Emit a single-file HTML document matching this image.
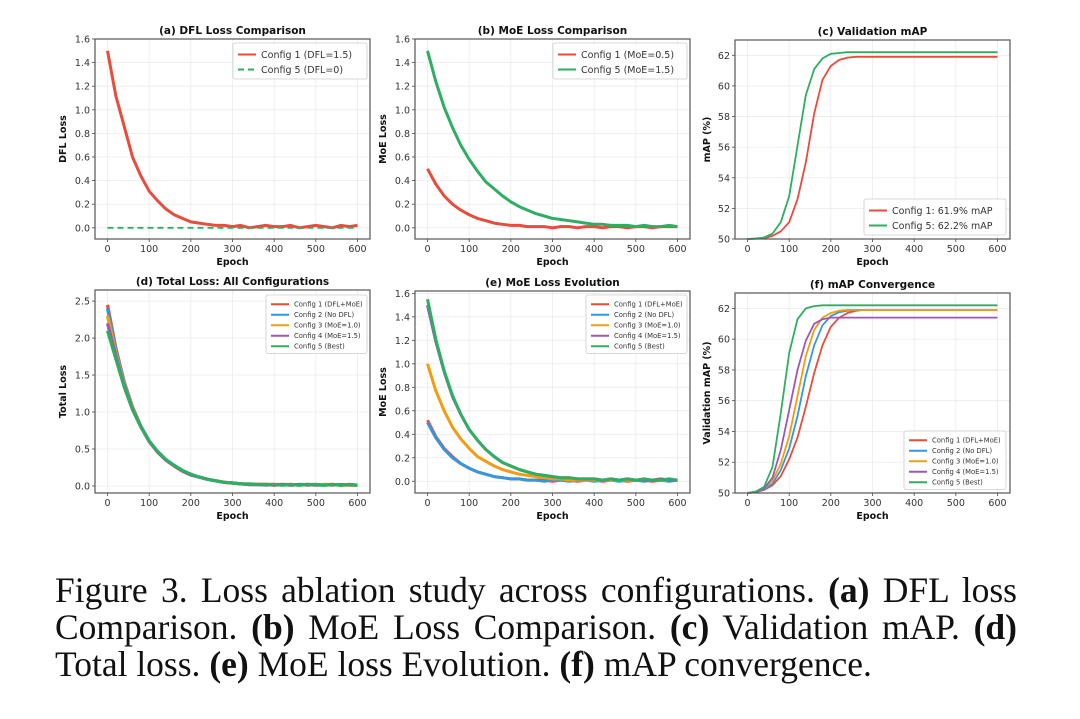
<!DOCTYPE html>
<html><head><meta charset="utf-8">
<style>
body{margin:0;background:#fff;width:1080px;height:719px;overflow:hidden;position:relative}
svg{position:absolute;left:0;top:0}
.cap{position:absolute;left:55px;width:962px;font-family:"Liberation Serif",serif;font-size:35.5px;color:#111;white-space:nowrap;line-height:37px}
.j{text-align:justify;text-align-last:justify}
</style></head><body>
<svg id="fig" width="1080" height="560"></svg>
<div class="cap j" style="top:572px">Figure 3. Loss ablation study across configurations. <b>(a)</b> DFL loss</div>
<div class="cap j" style="top:609px">Comparison. <b>(b)</b> MoE Loss Comparison. <b>(c)</b> Validation mAP. <b>(d)</b></div>
<div class="cap" style="top:646px">Total loss. <b>(e)</b> MoE loss Evolution. <b>(f)</b> mAP convergence.</div>
<script>
// epochs sampled every 20
const epochs=[0,20,40,60,80,100,120,140,160,180,200,220,240,260,280,300,320,340,360,380,400,420,440,460,480,500,520,540,560,580,600];
const xTicks=[0,100,200,300,400,500,600];
// (a)
const aDfl1=[1.50,1.12,0.86,0.60,0.44,0.31,0.23,0.16,0.11,0.08,0.05,0.04,0.03,0.02,0.02,0.01,0.02,0.00,0.01,0.02,0.01,0.01,0.02,0.00,0.01,0.02,0.01,0.00,0.02,0.01,0.02];
const aDfl5=[0,0,0,0,0,0,0,0,0,0,0,0,0,0,0,0,0,0,0,0,0,0,0,0,0,0,0,0,0,0,0];
// (b)
const bMoe1=[0.50,0.37,0.27,0.20,0.15,0.11,0.08,0.06,0.04,0.03,0.02,0.02,0.01,0.01,0.01,0.00,0.01,0.01,0.00,0.01,0.01,0.00,0.01,0.01,0.00,0.01,0.01,0.00,0.01,0.01,0.01];
const bMoe5=[1.50,1.24,1.02,0.85,0.70,0.58,0.48,0.39,0.33,0.27,0.22,0.18,0.15,0.12,0.10,0.08,0.07,0.06,0.05,0.04,0.03,0.03,0.02,0.02,0.02,0.01,0.02,0.01,0.01,0.02,0.01];
// (c)
const cMap1=[50.0,50.02,50.05,50.2,50.5,51.1,52.6,55.0,58.2,60.4,61.3,61.7,61.85,61.9,61.9,61.9,61.9,61.9,61.9,61.9,61.9,61.9,61.9,61.9,61.9,61.9,61.9,61.9,61.9,61.9,61.9];
const cMap5=[50.0,50.03,50.1,50.35,51.1,52.8,56.1,59.4,61.1,61.8,62.1,62.15,62.2,62.2,62.2,62.2,62.2,62.2,62.2,62.2,62.2,62.2,62.2,62.2,62.2,62.2,62.2,62.2,62.2,62.2,62.2];
// (d)
const dTot1=[2.45,1.87,1.41,1.07,0.81,0.61,0.46,0.35,0.27,0.20,0.15,0.12,0.09,0.07,0.05,0.04,0.03,0.02,0.02,0.02,0.01,0.02,0.02,0.01,0.02,0.01,0.02,0.01,0.02,0.01,0.01];
const dTot2=[2.40,1.85,1.40,1.06,0.81,0.61,0.46,0.35,0.27,0.20,0.15,0.12,0.09,0.07,0.05,0.04,0.03,0.02,0.02,0.01,0.02,0.02,0.01,0.02,0.02,0.01,0.01,0.02,0.01,0.02,0.01];
const dTot3=[2.30,1.80,1.38,1.05,0.80,0.60,0.46,0.35,0.27,0.20,0.15,0.12,0.09,0.07,0.05,0.04,0.03,0.02,0.02,0.02,0.02,0.01,0.02,0.01,0.02,0.01,0.02,0.02,0.01,0.01,0.01];
const dTot4=[2.20,1.76,1.36,1.04,0.80,0.60,0.46,0.35,0.27,0.20,0.15,0.12,0.09,0.07,0.05,0.04,0.03,0.02,0.02,0.02,0.01,0.02,0.01,0.02,0.01,0.02,0.01,0.02,0.01,0.02,0.01];
const dTot5=[2.10,1.72,1.34,1.03,0.80,0.61,0.47,0.36,0.28,0.21,0.16,0.12,0.09,0.07,0.05,0.04,0.03,0.03,0.02,0.02,0.02,0.01,0.02,0.01,0.02,0.02,0.01,0.02,0.01,0.02,0.01];
// (e)
const eMoe1=[0.52,0.38,0.28,0.21,0.15,0.11,0.08,0.06,0.04,0.03,0.02,0.02,0.01,0.01,0.01,0.00,0.01,0.01,0.00,0.01,0.01,0.00,0.01,0.01,0.00,0.01,0.01,0.00,0.01,0.01,0.01];
const eMoe2=[0.50,0.37,0.27,0.20,0.15,0.11,0.08,0.06,0.04,0.03,0.02,0.02,0.01,0.01,0.00,0.01,0.01,0.00,0.01,0.01,0.00,0.01,0.01,0.00,0.01,0.01,0.00,0.01,0.01,0.00,0.01];
const eMoe3=[1.00,0.77,0.60,0.46,0.36,0.28,0.21,0.17,0.13,0.10,0.08,0.06,0.05,0.04,0.03,0.02,0.02,0.01,0.01,0.01,0.01,0.01,0.01,0.01,0.01,0.01,0.01,0.01,0.01,0.01,0.01];
const eMoe4=[1.50,1.19,0.93,0.72,0.57,0.44,0.35,0.27,0.21,0.16,0.13,0.10,0.08,0.06,0.05,0.04,0.03,0.03,0.02,0.02,0.02,0.01,0.02,0.01,0.02,0.01,0.01,0.01,0.02,0.01,0.01];
const eMoe5=[1.55,1.21,0.94,0.73,0.57,0.44,0.35,0.27,0.21,0.16,0.13,0.10,0.08,0.06,0.05,0.04,0.03,0.03,0.02,0.02,0.02,0.01,0.02,0.01,0.02,0.01,0.02,0.01,0.01,0.02,0.01];
// (f)
const fMap1=[50.0,50.05,50.2,50.5,51.1,52.2,53.6,55.6,57.8,59.6,60.8,61.4,61.7,61.85,61.9,61.9,61.9,61.9,61.9,61.9,61.9,61.9,61.9,61.9,61.9,61.9,61.9,61.9,61.9,61.9,61.9];
const fMap2=[50.0,50.05,50.25,50.6,51.5,52.9,55.0,57.6,59.6,60.9,61.5,61.75,61.85,61.9,61.9,61.9,61.9,61.9,61.9,61.9,61.9,61.9,61.9,61.9,61.9,61.9,61.9,61.9,61.9,61.9,61.9];
const fMap3=[50.0,50.05,50.3,50.8,51.9,53.7,56.3,58.9,60.6,61.4,61.7,61.85,61.9,61.9,61.9,61.9,61.9,61.9,61.9,61.9,61.9,61.9,61.9,61.9,61.9,61.9,61.9,61.9,61.9,61.9,61.9];
const fMap4=[50.0,50.05,50.3,51.0,52.8,55.4,58.0,59.9,61.0,61.3,61.4,61.4,61.4,61.4,61.4,61.4,61.4,61.4,61.4,61.4,61.4,61.4,61.4,61.4,61.4,61.4,61.4,61.4,61.4,61.4,61.4];
const fMap5=[50.0,50.1,50.4,51.7,55.2,59.1,61.3,62.0,62.15,62.2,62.2,62.2,62.2,62.2,62.2,62.2,62.2,62.2,62.2,62.2,62.2,62.2,62.2,62.2,62.2,62.2,62.2,62.2,62.2,62.2,62.2];
const lossTicks=[0,0.2,0.4,0.6,0.8,1.0,1.2,1.4,1.6];
const mapTicks=[50,52,54,56,58,60,62];
const totTicks=[0,0.5,1.0,1.5,2.0,2.5];

const C={r:'#e74c3c',b:'#3498db',o:'#f39c12',p:'#9b59b6',g:'#2eae62'};
const NS='http://www.w3.org/2000/svg';
const svg=document.getElementById('fig');
function mk(tag,attrs,parent,txt){const e=document.createElementNS(NS,tag);for(const k in attrs)e.setAttribute(k,attrs[k]);if(txt!==undefined)e.textContent=txt;(parent||svg).appendChild(e);return e;}
const FONT='"DejaVu Sans","Liberation Sans",sans-serif';

function panel(p){
  const g=mk('g',{});
  
  
  const sx=v=>p.x0+(v-(-30))/(660)*(p.x1-p.x0);
  const sy=v=>p.y1-(v-p.ylim[0])/(p.ylim[1]-p.ylim[0])*(p.y1-p.y0);
  xTicks.forEach(t=>{const l=mk('line',{x1:sx(t),x2:sx(t),y1:p.y0,y2:p.y1,stroke:'#ebebeb','stroke-width':0.8},g);
    const tx=mk('text',{x:sx(t),y:p.y1+13,'font-size':9.5,'text-anchor':'middle','font-family':FONT,fill:'#333'},g,t);
    mk('line',{x1:sx(t),x2:sx(t),y1:p.y1,y2:p.y1+3,stroke:'#444','stroke-width':0.8},g);});
  p.yt.forEach(t=>{const l=mk('line',{x1:p.x0,x2:p.x1,y1:sy(t),y2:sy(t),stroke:'#ebebeb','stroke-width':0.8},g);
    const tx=mk('text',{x:p.x0-5,y:sy(t)+3.5,'font-size':9.5,'text-anchor':'end','font-family':FONT,fill:'#333'},g,p.fmt(t));
    mk('line',{x1:p.x0-3,x2:p.x0,y1:sy(t),y2:sy(t),stroke:'#444','stroke-width':0.8},g);});
  p.series.forEach(s=>{
    const pts=epochs.map((e,i)=>sx(e).toFixed(1)+','+sy(s.v[i]).toFixed(1)).join(' ');
    const pl=mk('polyline',{points:pts,fill:'none',stroke:s.c,'stroke-width':s.w||2,'stroke-linejoin':'round','stroke-dasharray':s.dash||'none'},g);
    
    
  });
  const fr=mk('rect',{x:p.x0,y:p.y0,width:p.x1-p.x0,height:p.y1-p.y0,fill:'none',stroke:'#555','stroke-width':1.2},g);
  
  const ti=mk('text',{x:(p.x0+p.x1)/2,y:p.y0-5,'font-size':10.5,'font-weight':'bold','text-anchor':'middle','font-family':FONT,fill:'#111'},g,p.title);
  
  const xl=mk('text',{x:(p.x0+p.x1)/2,y:p.y1+26,'font-size':9.5,'font-weight':'bold','text-anchor':'middle','font-family':FONT,fill:'#111'},g,'Epoch');
  
  const yx=p.x0-p.ylOff, yy=(p.y0+p.y1)/2;
  const yl=mk('text',{x:yx,y:yy,'font-size':9.5,'font-weight':'bold','text-anchor':'middle','font-family':FONT,fill:'#111',transform:`rotate(-90 ${yx} ${yy})`},g,p.ylabel);
  
  const L=p.leg;
  const lb=mk('rect',{x:L.x,y:L.y,width:L.w,height:L.rh*p.series.length+6,fill:'#fff','fill-opacity':0.85,stroke:'#ccc','stroke-width':0.8,rx:2},g);
  
  p.series.forEach((s,i)=>{
    const cy=L.y+4+L.rh*(i+0.5);
    mk('line',{x1:L.x+5,x2:L.x+23,y1:cy,y2:cy,stroke:s.c,'stroke-width':2,'stroke-dasharray':s.dash||'none'},g);
    const t=mk('text',{x:L.x+28,y:cy+L.fs*0.36,'font-size':L.fs,'font-family':FONT,fill:'#333'},g,s.label);
    
  });
}
const f1=v=>v.toFixed(1), f0=v=>String(v);
const five=(a,b,c,d,e,w)=>[
 {id:'series-config-1',c:C.r,v:a,label:'Config 1 (DFL+MoE)',w:w},
 {id:'series-config-2',c:C.b,v:b,label:'Config 2 (No DFL)',w:w},
 {id:'series-config-3',c:C.o,v:c,label:'Config 3 (MoE=1.0)',w:w},
 {id:'series-config-4',c:C.p,v:d,label:'Config 4 (MoE=1.5)',w:w},
 {id:'series-config-5',c:C.g,v:e,label:'Config 5 (Best)',w:w}];
panel({name:'panel-a-dfl-loss',x0:95,x1:370,y0:39,y1:239,ylim:[-0.095,1.6],yt:lossTicks,fmt:f1,title:'(a) DFL Loss Comparison',ylabel:'DFL Loss',ylOff:29,
 series:[{id:'series-config-1',c:C.r,v:aDfl1,label:'Config 1 (DFL=1.5)',w:3},{id:'series-config-5',c:C.g,v:aDfl5,label:'Config 5 (DFL=0)',dash:'6,4',w:1.8}],
 leg:{x:233,y:43,w:134,rh:15,fs:9.5}});
panel({name:'panel-b-moe-loss',x0:415,x1:690,y0:39,y1:239,ylim:[-0.095,1.6],yt:lossTicks,fmt:f1,title:'(b) MoE Loss Comparison',ylabel:'MoE Loss',ylOff:29,
 series:[{id:'series-config-1',c:C.r,v:bMoe1,label:'Config 1 (MoE=0.5)',w:3},{id:'series-config-5',c:C.g,v:bMoe5,label:'Config 5 (MoE=1.5)',w:3}],
 leg:{x:553,y:43,w:134,rh:15,fs:9.5}});
panel({name:'panel-c-validation-map',x0:735,x1:1010,y0:40,y1:239,ylim:[50,63],yt:mapTicks,fmt:f0,title:'(c) Validation mAP',ylabel:'mAP (%)',ylOff:25,
 series:[{id:'series-config-1',c:C.r,v:cMap1,label:'Config 1: 61.9% mAP',w:1.8},{id:'series-config-5',c:C.g,v:cMap5,label:'Config 5: 62.2% mAP',w:1.8}],
 leg:{x:864,y:199,w:142,rh:15,fs:9.5}});
panel({name:'panel-d-total-loss',x0:95,x1:370,y0:290,y1:493,ylim:[-0.095,2.65],yt:totTicks,fmt:f1,title:'(d) Total Loss: All Configurations',ylabel:'Total Loss',ylOff:29,
 series:five(dTot1,dTot2,dTot3,dTot4,dTot5,3.2),leg:{x:266,y:295,w:101,rh:10.5,fs:6.8}});
panel({name:'panel-e-moe-evolution',x0:415,x1:690,y0:291,y1:493,ylim:[-0.1,1.62],yt:lossTicks,fmt:f1,title:'(e) MoE Loss Evolution',ylabel:'MoE Loss',ylOff:29,
 series:five(eMoe1,eMoe2,eMoe3,eMoe4,eMoe5,3),leg:{x:586,y:295,w:101,rh:10.5,fs:6.8}});
panel({name:'panel-f-map-convergence',x0:735,x1:1010,y0:293,y1:493,ylim:[50,63],yt:mapTicks,fmt:f0,title:'(f) mAP Convergence',ylabel:'Validation mAP (%)',ylOff:25,
 series:five(fMap1,fMap2,fMap3,fMap4,fMap5,1.8),leg:{x:904,y:431,w:102,rh:10.5,fs:6.8}});
</script>
</body></html>
